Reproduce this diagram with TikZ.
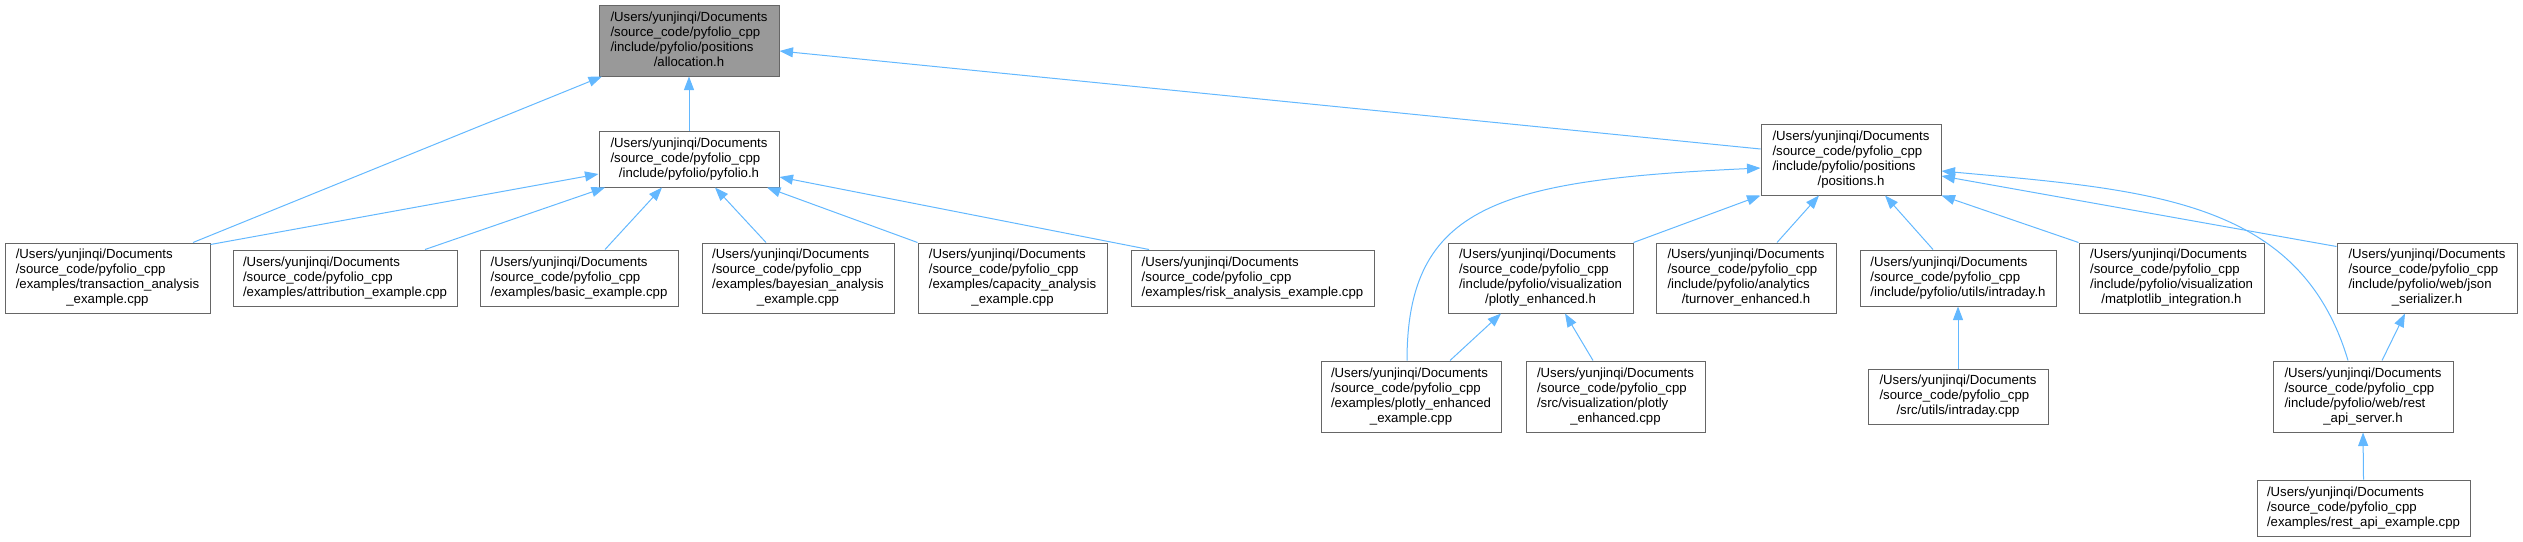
\documentclass[tikz,border=0pt]{standalone}
\usepackage{fontspec}
\setmainfont{Liberation Sans}
\usetikzlibrary{arrows.meta}
\definecolor{edgeblue}{HTML}{63B8FF}
\definecolor{boxgray}{HTML}{666666}
\definecolor{mainfill}{HTML}{999999}
\newcommand{\fourl}[4]{\begin{tabular}{@{}l@{}}#1\\#2\\#3\\\multicolumn{1}{@{}c@{}}{#4}\end{tabular}}
\newcommand{\threel}[3]{\begin{tabular}{@{}l@{}}#1\\#2\\\multicolumn{1}{@{}c@{}}{#3}\end{tabular}}
\newcommand{\UD}{/Users/yunjinqi/Documents}
\newcommand{\SC}{/source\_code/pyfolio\_cpp}
\tikzset{
  box/.style={draw=boxgray, line width=1pt, fill=white, inner sep=0pt, font=\fontsize{13.2}{15}\selectfont},
  mainbox/.style={box, fill=mainfill},
  edge/.style={draw=edgeblue, line width=1pt, -{Triangle[length=13.5pt,width=10pt]}},
}
\begin{document}
\begin{tikzpicture}[x=1pt,y=-1pt]
\useasboundingbox (0,0) rectangle (2523,541);
% row 0
\node[mainbox, minimum width=180pt, minimum height=71pt] (alloc) at (689,40.5) {\fourl{\UD}{\SC}{/include/pyfolio/positions}{/allocation.h}};
% row 1
\node[box, minimum width=180pt, minimum height=56pt] (pyfolio) at (689,159) {\threel{\UD}{\SC}{/include/pyfolio/pyfolio.h}};
\node[box, minimum width=180pt, minimum height=71pt] (positions) at (1851,159.5) {\fourl{\UD}{\SC}{/include/pyfolio/positions}{/positions.h}};
% row 2
\node[box, minimum width=205pt, minimum height=70pt] (trans) at (107.5,278) {\fourl{\UD}{\SC}{/examples/transaction\_analysis}{\_example.cpp}};
\node[box, minimum width=224pt, minimum height=56pt] (attrib) at (345,278) {\threel{\UD}{\SC}{/examples/attribution\_example.cpp}};
\node[box, minimum width=198pt, minimum height=56pt] (basic) at (579,278) {\threel{\UD}{\SC}{/examples/basic\_example.cpp}};
\node[box, minimum width=192pt, minimum height=70pt] (bayes) at (798,278) {\fourl{\UD}{\SC}{/examples/bayesian\_analysis}{\_example.cpp}};
\node[box, minimum width=189pt, minimum height=70pt] (capac) at (1012.5,278) {\fourl{\UD}{\SC}{/examples/capacity\_analysis}{\_example.cpp}};
\node[box, minimum width=243pt, minimum height=56pt] (risk) at (1252.5,278) {\threel{\UD}{\SC}{/examples/risk\_analysis\_example.cpp}};
\node[box, minimum width=185pt, minimum height=70pt] (plotlyh) at (1540.5,278) {\fourl{\UD}{\SC}{/include/pyfolio/visualization}{/plotly\_enhanced.h}};
\node[box, minimum width=180pt, minimum height=70pt] (turnover) at (1746,278) {\fourl{\UD}{\SC}{/include/pyfolio/analytics}{/turnover\_enhanced.h}};
\node[box, minimum width=196pt, minimum height=56pt] (intradayh) at (1958,278) {\threel{\UD}{\SC}{/include/pyfolio/utils/intraday.h}};
\node[box, minimum width=185pt, minimum height=70pt] (matplot) at (2171.5,278) {\fourl{\UD}{\SC}{/include/pyfolio/visualization}{/matplotlib\_integration.h}};
\node[box, minimum width=180pt, minimum height=70pt] (json) at (2427,278) {\fourl{\UD}{\SC}{/include/pyfolio/web/json}{\_serializer.h}};
% row 3
\node[box, minimum width=180pt, minimum height=71pt] (plotlyex) at (1411,396.5) {\fourl{\UD}{\SC}{/examples/plotly\_enhanced}{\_example.cpp}};
\node[box, minimum width=179pt, minimum height=71pt] (plotlycpp) at (1615.5,396.5) {\fourl{\UD}{\SC}{/src/visualization/plotly}{\_enhanced.cpp}};
\node[box, minimum width=180pt, minimum height=55pt] (intradaycpp) at (1958,396.5) {\threel{\UD}{\SC}{/src/utils/intraday.cpp}};
\node[box, minimum width=180pt, minimum height=71pt] (restserver) at (2363,396.5) {\fourl{\UD}{\SC}{/include/pyfolio/web/rest}{\_api\_server.h}};
% row 4
\node[box, minimum width=213pt, minimum height=56pt] (restex) at (2363.5,508) {\threel{\UD}{\SC}{/examples/rest\_api\_example.cpp}};

% edges to allocation
\draw[edge] (pyfolio.north) -- (alloc.south);
\draw[edge] ([xshift=85.5pt]trans.north) -- ([xshift=-87pt]alloc.south);
\draw[edge] ([yshift=10.5pt]positions.west) -- ([yshift=-10.5pt]alloc.east);
% edges to pyfolio
\draw[edge] ([yshift=-2pt]trans.north east) -- ([yshift=-15pt]pyfolio.west);
\draw[edge] ([xshift=80pt]attrib.north) -- ([xshift=-84pt]pyfolio.south);
\draw[edge] ([xshift=26pt]basic.north) -- ([xshift=-27pt]pyfolio.south);
\draw[edge] ([xshift=-32pt]bayes.north) -- ([xshift=26pt]pyfolio.south);
\draw[edge] (capac.north west) -- ([xshift=78pt]pyfolio.south);
\draw[edge] ([xshift=-103.5pt]risk.north) -- ([yshift=-18pt]pyfolio.east);
% edges to positions
\draw[edge] (plotlyh.north east) -- (positions.south west);
\draw[edge] ([xshift=-4pt]plotlyex.north) .. controls +(0,-156) and +(-260,12) .. ([yshift=-8.5pt]positions.west);
\draw[edge] ([xshift=31pt]turnover.north) -- ([xshift=-32pt]positions.south);
\draw[edge] ([xshift=-25pt]intradayh.north) -- ([xshift=34pt]positions.south);
\draw[edge] (matplot.north west) -- (positions.south east);
\draw[edge] ([yshift=-4pt]json.north west) -- ([yshift=-16.5pt]positions.east);
\draw[edge] ([xshift=-15pt]restserver.north) .. controls +(-48,-161) and +(209,19) .. ([yshift=-11.5pt]positions.east);
% lower edges
\draw[edge] (intradaycpp.north) -- (intradayh.south);
\draw[edge] ([xshift=39pt]plotlyex.north) -- ([xshift=-39.5pt]plotlyh.south);
\draw[edge] ([xshift=-22.5pt]plotlycpp.north) -- ([xshift=24.5pt]plotlyh.south);
\draw[edge] ([xshift=19pt]restserver.north) -- ([xshift=-22pt]json.south);
\draw[edge] (restex.north) -- (restserver.south);
\end{tikzpicture}
\end{document}
